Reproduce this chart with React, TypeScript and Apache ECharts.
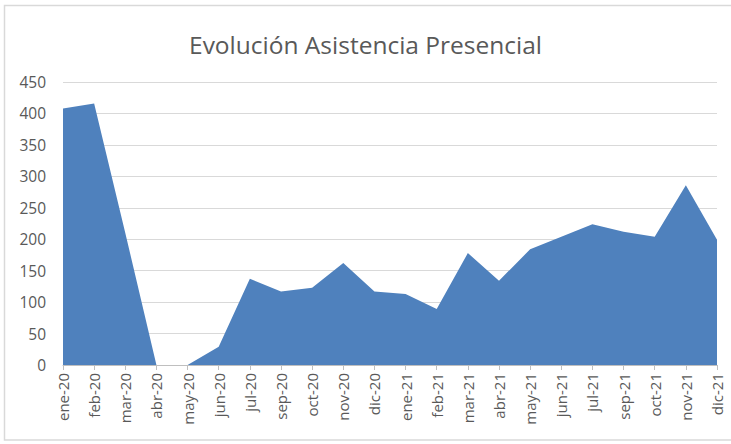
import React, { useEffect, useRef } from "react";
import * as echarts from "echarts";

const categories = [
  "ene-20", "feb-20", "mar-20", "abr-20", "may-20", "jun-20", "jul-20", "sep-20",
  "oct-20", "nov-20", "dic-20", "ene-21", "feb-21", "mar-21", "abr-21", "may-21",
  "jun-21", "jul-21", "sep-21", "oct-21", "nov-21", "dic-21",
];
const asistencia = [
  408, 416, 210, 0, 0, 29, 137, 117, 123, 162, 117, 113, 89, 178, 134, 184,
  204, 224, 212, 204, 286, 199,
];
const yTicks = [0, 50, 100, 150, 200, 250, 300, 350, 400, 450];

export default function App() {
  const ref = useRef<HTMLDivElement>(null);
  useEffect(() => {
    if (!ref.current) return;
    const chart = echarts.init(ref.current, undefined, { renderer: "svg" });
    chart.setOption({
      animation: false,
      backgroundColor: "#ffffff",
      title: {
        text: "Evolución Asistencia Presencial",
        left: "center",
        top: 27,
        textStyle: {
          fontFamily: "Open Sans",
          fontSize: 24.5,
          fontWeight: "normal",
          color: "#595959",
        },
      },
      graphic: [
        {
          type: "rect",
          shape: { x: 4.5, y: 5.5, width: 740, height: 434.5 },
          style: { fill: "none", stroke: "#d9d9d9", lineWidth: 1.5 },
          silent: true,
        },
      ],
      grid: { left: 63, right: 14, top: 82, bottom: 79, containLabel: false },
      xAxis: {
        type: "category",
        data: categories,
        boundaryGap: false,
        axisLine: { lineStyle: { color: "#bfbfbf", width: 1 } },
        axisTick: { show: true, length: 5, lineStyle: { color: "#bfbfbf" }, alignWithLabel: true },
        axisLabel: {
          rotate: 90,
          interval: 0,
          margin: 8,
          fontFamily: "Open Sans",
          fontSize: 15,
          color: "#595959",
        },
      },
      yAxis: {
        type: "value",
        min: 0,
        max: 450,
        interval: 50,
        axisLine: { show: false },
        axisTick: { show: false },
        splitLine: { lineStyle: { color: "#d9d9d9", width: 1 } },
        axisLabel: {
          margin: 17,
          fontFamily: "Open Sans",
          fontSize: 15.5,
          color: "#595959",
          formatter: (v: number) => (yTicks.includes(v) ? String(v) : ""),
        },
      },
      series: [
        {
          type: "line",
          data: asistencia,
          symbol: "none",
          lineStyle: { width: 0 },
          areaStyle: { color: "#4f81bd", opacity: 1 },
          itemStyle: { color: "#4f81bd" },
        },
      ],
    });
    return () => chart.dispose();
  }, []);
  return (
    <div
      ref={ref}
      style={{ position: "absolute", left: 0, top: 0, width: 731, height: 444 }}
    />
  );
}
